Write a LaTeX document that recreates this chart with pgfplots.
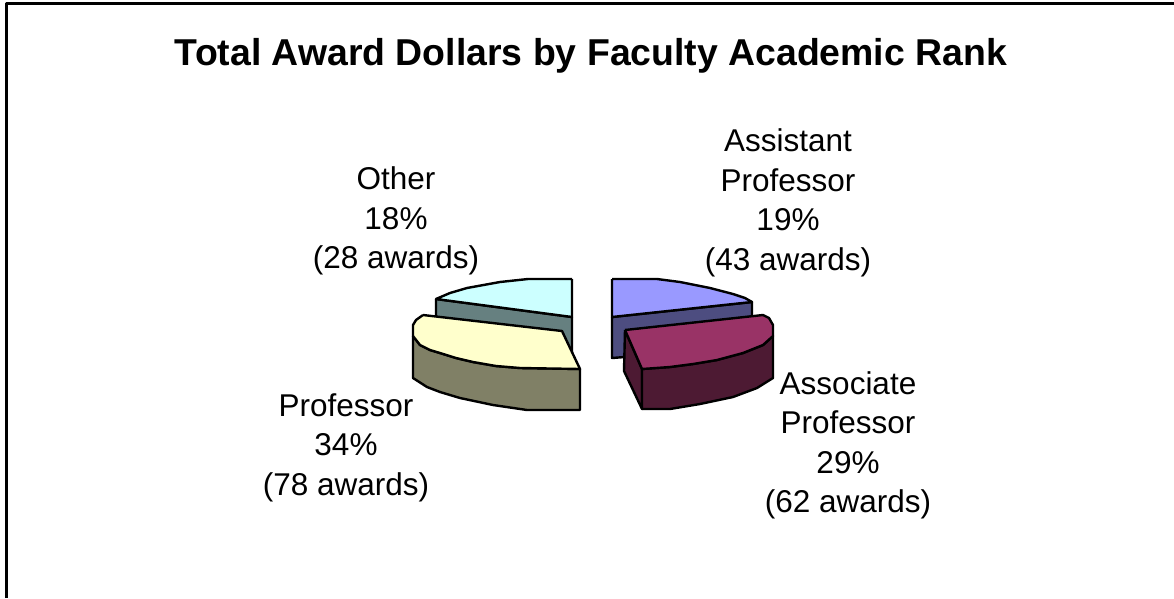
\documentclass[border=0pt]{standalone}
\usepackage{pgfplots}
\pgfplotsset{compat=1.18}
\usepackage{fontspec}
\setmainfont{Liberation Sans}
\definecolor{cTop}{HTML}{CCFFFF}\definecolor{cWall}{HTML}{668080}
\definecolor{yTop}{HTML}{FFFFCC}\definecolor{ySide}{HTML}{808066}
\definecolor{bTop}{HTML}{9999FF}\definecolor{bWall}{HTML}{4D4D80}
\definecolor{mTop}{HTML}{993366}\definecolor{mSide}{HTML}{4D1A33}
\begin{document}
\begin{tikzpicture}
\path[use as bounding box] (0,0) rectangle (1174pt,598pt);
\begin{axis}[scale only axis,width=1174pt,height=598pt,xmin=0,xmax=1174,ymin=0,ymax=598,y dir=reverse,
  axis lines=none,clip=true,
  every axis plot/.append style={draw=black,line width=2.4pt,line join=round,mark=none}]
% frame
\addplot[draw=black,line width=3pt] coordinates {(6,598) (6,3) (1174,3)};
% Other
\addplot[fill=cWall] coordinates {(436,299) (572,317) (572,353) (436,353) (436,299)};
\addplot[fill=cTop] coordinates {(572,279) (528,279) (500,282) (467,288) (450,293) (436,299) (572,317) (572,279)};
% Professor
\addplot[fill=ySide] coordinates {(413,336) (420,345) (430,350) (440,353) (456,358) (473,362) (496,366) (520,368) (580,369) (580,410) (527,410) (493,405) (460,398) (440,392) (427,387) (413,378) (413,336)};
\addplot[fill=yTop] coordinates {(423,315) (416,320) (413,325) (413,336) (420,345) (430,350) (440,353) (456,358) (473,362) (496,366) (520,368) (580,369) (562,331) (423,315)};
% Assistant
\addplot[fill=bWall] coordinates {(612,317) (752,302) (752,320) (625,357) (612,358) (612,317)};
\addplot[fill=bTop] coordinates {(612,279) (657,279) (680,282) (710,288) (733,294) (745,298) (752,302) (612,317) (612,279)};
% Associate
\addplot[fill=mSide] coordinates {(625,330) (642,369) (642,409) (624,371) (625,330)};
\addplot[fill=mSide] coordinates {(642,369) (670,367) (693,364) (717,360) (743,353) (763,345) (773,336) (773,378) (757,388) (733,397) (700,404) (670,409) (642,409) (642,369)};
\addplot[fill=mTop] coordinates {(625,330) (763,315) (769,318) (773,325) (773,336) (763,345) (743,353) (717,360) (693,364) (670,367) (642,369) (625,330)};
% text
\node[font=\fontsize{37.4}{44}\selectfont\bfseries] at (axis cs:591,56) {Total Award Dollars by Faculty Academic Rank};
\node[font=\fontsize{31.5}{39.5}\selectfont,align=center] at (axis cs:396,221) {Other\\18\%\\(28 awards)};
\node[font=\fontsize{31.5}{39.5}\selectfont,align=center] at (axis cs:788,203) {Assistant\\Professor\\19\%\\(43 awards)};
\node[font=\fontsize{31.5}{39.5}\selectfont,align=center] at (axis cs:346,447.5) {Professor\\34\%\\(78 awards)};
\node[font=\fontsize{31.5}{39.5}\selectfont,align=center] at (axis cs:848,445.5) {Associate\\Professor\\29\%\\(62 awards)};
\end{axis}
\end{tikzpicture}
\end{document}
